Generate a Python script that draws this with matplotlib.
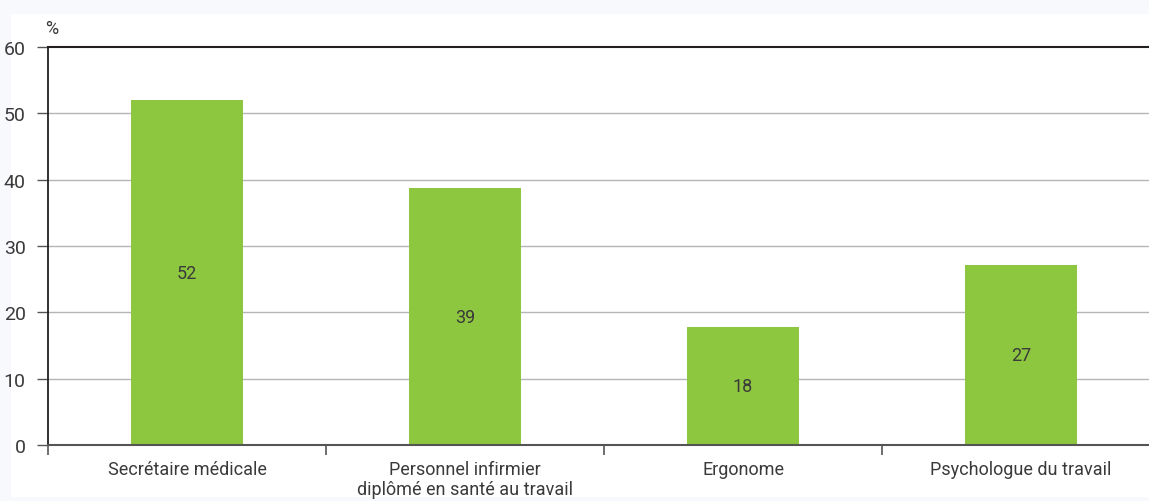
import matplotlib.pyplot as plt
from matplotlib.patches import Rectangle

plt.rcParams['font.family'] = ['Roboto', 'DejaVu Sans']

categories = ['Secrétaire médicale', 'Personnel infirmier\ndiplômé en santé au travail',
              'Ergonome', 'Psychologue du travail']
values = [52.0, 38.7, 17.8, 27.1]
labels = ['52', '39', '18', '27']
yticks = [0, 10, 20, 30, 40, 50, 60]

bar_color = '#8dc63f'
text_color = '#3a3a3a'

fig = plt.figure(figsize=(11.49, 5.02), dpi=100)
fig.patch.set_facecolor('#f8f9fc')
# white panel behind the chart
fig.patches.append(Rectangle((11 / 1149, 4 / 502), 1 - 11 / 1149, (498 - 15) / 502,
                             transform=fig.transFigure, facecolor='white',
                             edgecolor='none', zorder=-10))

ax = fig.add_axes([48 / 1149, 56 / 502, 1112 / 1149, 398 / 502])
ax.set_facecolor('white')

x = range(len(categories))
ax.bar(x, values, width=0.4, color=bar_color, zorder=3)
for xi, v, lab in zip(x, values, labels):
    ax.text(xi, v / 2, lab, ha='center', va='center', fontsize=13, color=text_color, zorder=4)

ax.set_xlim(-0.5, 3.5)
ax.set_ylim(0, 60)
ax.set_yticks(yticks)
for t in yticks[1:-1]:
    ax.axhline(t, color='#b5b5b5', linewidth=1, zorder=1)
ax.axhline(60, color='#231f20', linewidth=1.5, zorder=2, clip_on=False)

for s in ['top', 'right']:
    ax.spines[s].set_visible(False)
ax.spines['left'].set_color('#231f20')
ax.spines['left'].set_linewidth(1.3)
ax.spines['bottom'].set_color('#555555')
ax.spines['bottom'].set_linewidth(1.5)
ax.spines['bottom'].set_zorder(5)

ax.tick_params(axis='y', length=8, width=1, color='#555555', pad=8,
               labelsize=14, labelcolor=text_color)
ax.set_xticks(list(x))
ax.set_xticklabels(categories, fontsize=13, color=text_color, linespacing=1.1, va='top')
ax.tick_params(axis='x', length=0, pad=11)
ax.set_xticks([-0.5, 0.5, 1.5, 2.5], minor=True)
ax.tick_params(axis='x', which='minor', length=7, width=1.2, color='#555555')

ax.text(-0.003, 1.025, '%', transform=ax.transAxes, fontsize=13, color=text_color,
        ha='left', va='bottom')

plt.savefig('out.png', dpi=100, facecolor=fig.get_facecolor())
